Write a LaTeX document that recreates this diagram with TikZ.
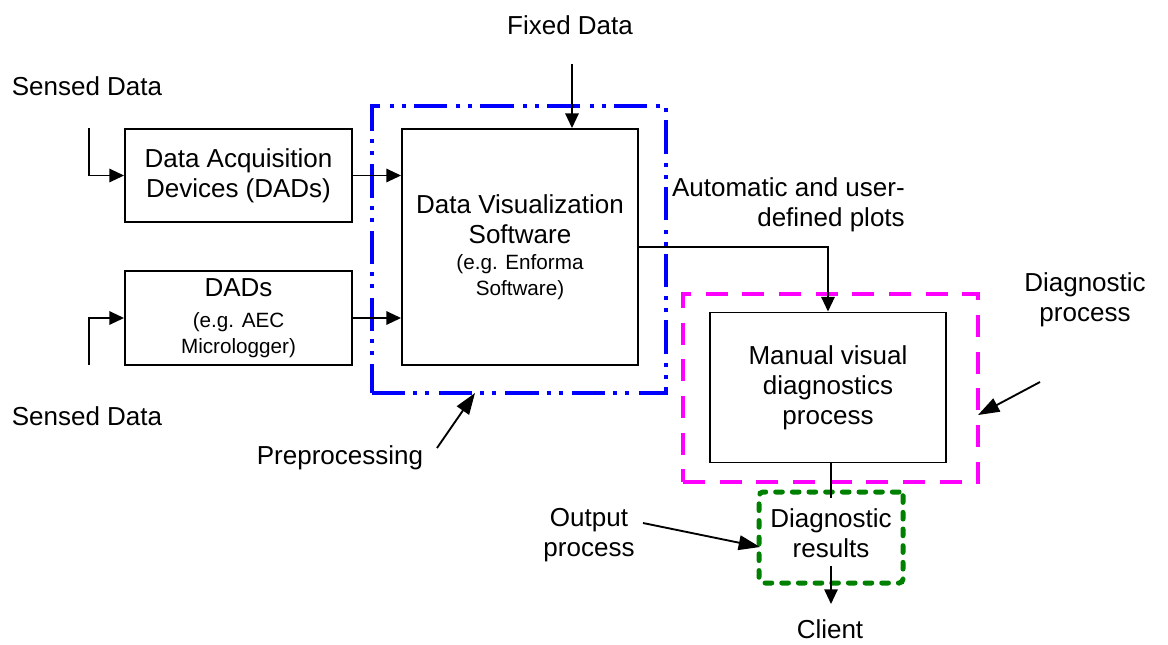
\documentclass[tikz,border=0pt]{standalone}
\usepackage{fontspec}
\setmainfont{Liberation Sans}
\usetikzlibrary{arrows.meta}
\definecolor{mblue}{RGB}{0,0,255}
\definecolor{mmag}{RGB}{255,0,255}
\definecolor{mgreen}{RGB}{0,128,0}
\newcommand{\bigf}{\fontsize{19.5}{22.5}\selectfont}
\newcommand{\smallf}{\fontsize{15.5}{18}\selectfont}
\begin{document}
\begin{tikzpicture}[x=0.75pt,y=-0.75pt,
  box/.style={draw,line width=1.4pt,inner sep=0pt,align=center,font=\bigf},
  lbl/.style={inner sep=0pt,align=center,font=\bigf},
  arr/.style={line width=1.4pt,-{Triangle[length=11pt,width=10pt]}},
  ann/.style={line width=1.4pt,-{Triangle[length=16pt,width=11pt]}},
  conn/.style={line width=1.4pt},
  bluebox/.style={draw=mblue,line width=3pt,dash pattern=on 25pt off 6pt on 3pt off 6pt on 3pt off 7pt,inner sep=0pt},
  magbox/.style={draw=mmag,line width=3pt,dash pattern=on 16.5pt off 11pt,inner sep=0pt},
  greenbox/.style={draw=mgreen,line width=3.75pt,line cap=round,dash pattern=on 5pt off 7.5pt,rounded corners=3pt,inner sep=0pt}
]
\useasboundingbox (0,0) rectangle (1168,644);

% group frames
\node[bluebox,minimum width=220.5pt,minimum height=215.25pt] (pregrp) at (519,249.5) {};
\node[magbox,minimum width=221.25pt,minimum height=141pt] (diaggrp) at (830.5,388) {};
\node[greenbox,minimum width=108pt,minimum height=68.25pt] (outgrp) at (831,537.5) {};

% boxes
\node[box,minimum width=170.25pt,minimum height=69.75pt] (dad1) at (238.5,175.5) {Data Acquisition\\Devices (DADs)};
\node[box,minimum width=170.25pt,minimum height=70.5pt] (dad2) at (238.5,318) {DADs\\[1pt]{\smallf (e.g. AEC}\\[-3pt]{\smallf Micrologger)}};
\node[box,minimum width=177pt,minimum height=177pt] (dvs) at (520,247) {Data Visualization\\Software\\[-3pt]{\smallf (e.g. Enforma}\\[-3pt]{\smallf Software)}};
\node[box,minimum width=177pt,minimum height=112.5pt] (manual) at (828,387.5) {Manual visual\\diagnostics\\process};
\node[lbl] (results) at (831,533) {Diagnostic\\results};

% labels
\node[lbl] (sens1) at (87,86) {Sensed Data};
\node[lbl] (sens2) at (87,416) {Sensed Data};
\node[lbl] (fixed) at (570,25) {Fixed Data};
\node[lbl,align=right,anchor=east] (plots) at (905,205) {Automatic and user-\\defined plots};
\node[lbl] (diagp) at (1085,300) {Diagnostic\\process};
\node[lbl] (prep) at (340,458) {Preprocessing};
\node[lbl] (outp) at (589,535) {Output\\process};
\node[lbl] (client) at (830,629) {Client};

% coordinates
\coordinate (s1) at (89,128);
\coordinate (s2) at (89,365);
\coordinate (f1) at (572,64);
\coordinate (rtop) at (831,498);
\coordinate (rbot) at (831,566);
\coordinate (cl) at (831,604);
\coordinate (pa) at (437,448);
\coordinate (pb) at (475,393);
\coordinate (da) at (1040,382);
\coordinate (db) at (978,415);
\coordinate (oa) at (643,523);
\coordinate (ob) at (760,547);

% connectors
\draw[arr] (s1) |- (dad1.west);
\draw[arr] (s2) |- (dad2.west);
\draw[arr] (dad1.east) -- (dad1.east -| dvs.west);
\draw[arr] (dad2.east) -- (dad2.east -| dvs.west);
\draw[arr] (f1) -- (f1 |- dvs.north);
\draw[arr] (dvs.east) -| (manual.north);
\draw[conn] (manual.south -| rtop) -- (rtop);
\draw[arr] (rbot) -- (cl);
\draw[ann] (pa) -- (pb);
\draw[ann] (da) -- (db);
\draw[ann] (oa) -- (ob);
\end{tikzpicture}
\end{document}
